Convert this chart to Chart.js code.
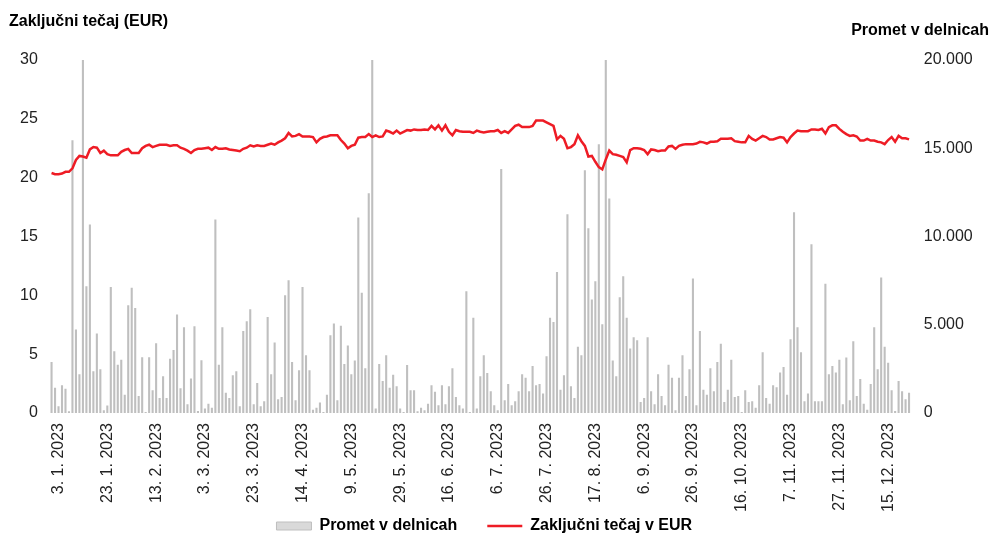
<!DOCTYPE html>
<html>
<head>
<meta charset="utf-8">
<script src="https://cdn.jsdelivr.net/npm/chart.js@4.4.0/dist/chart.umd.min.js"></script>
<style>
  html, body { margin: 0; padding: 0; background: #ffffff; }
  #wrap { width: 993px; height: 535px; position: relative; }
</style>
</head>
<body>
<div id="wrap"><canvas id="c"></canvas></div>
<script>
// Trading days 2023 (day.month)
const tradingDays = (
  "3.1 4.1 5.1 6.1 9.1 10.1 11.1 12.1 13.1 16.1 17.1 18.1 19.1 20.1 23.1 24.1 25.1 26.1 27.1 30.1 31.1 " +
  "1.2 2.2 3.2 6.2 7.2 9.2 10.2 13.2 14.2 15.2 16.2 17.2 20.2 21.2 22.2 23.2 24.2 27.2 28.2 " +
  "1.3 2.3 3.3 6.3 7.3 8.3 9.3 10.3 13.3 14.3 15.3 16.3 17.3 20.3 21.3 22.3 23.3 24.3 27.3 28.3 29.3 30.3 31.3 " +
  "3.4 4.4 5.4 6.4 11.4 12.4 13.4 14.4 17.4 18.4 19.4 20.4 21.4 24.4 25.4 26.4 28.4 " +
  "3.5 4.5 5.5 8.5 9.5 10.5 11.5 12.5 15.5 16.5 17.5 18.5 19.5 22.5 23.5 24.5 25.5 26.5 29.5 30.5 31.5 " +
  "1.6 2.6 5.6 6.6 7.6 8.6 9.6 12.6 13.6 14.6 15.6 16.6 19.6 20.6 21.6 22.6 23.6 26.6 27.6 28.6 29.6 30.6 " +
  "3.7 4.7 5.7 6.7 7.7 10.7 11.7 12.7 13.7 14.7 17.7 18.7 19.7 20.7 21.7 24.7 25.7 26.7 27.7 28.7 31.7 " +
  "1.8 2.8 3.8 4.8 7.8 8.8 9.8 10.8 11.8 16.8 17.8 18.8 21.8 22.8 23.8 24.8 25.8 28.8 29.8 30.8 31.8 " +
  "1.9 4.9 5.9 6.9 7.9 8.9 11.9 12.9 13.9 14.9 15.9 18.9 19.9 20.9 21.9 22.9 25.9 26.9 27.9 28.9 29.9 " +
  "2.10 3.10 4.10 5.10 6.10 9.10 10.10 11.10 12.10 13.10 16.10 17.10 18.10 19.10 20.10 23.10 24.10 25.10 26.10 27.10 30.10 " +
  "2.11 3.11 6.11 7.11 8.11 9.11 10.11 13.11 14.11 15.11 16.11 17.11 20.11 21.11 22.11 23.11 24.11 27.11 28.11 29.11 30.11 " +
  "1.12 4.12 5.12 6.12 7.12 8.12 11.12 12.12 13.12 14.12 15.12 18.12 19.12 20.12 21.12 22.12 27.12 28.12 29.12"
).split(" ");
const categories = tradingDays.map(t => { const p = t.split("."); return p[0] + ". " + p[1] + ". 2023"; });

// Promet v delnicah (shares traded)
const volume = [
  2890,1436,378,1570,1380,100,15460,4725,2190,20000,7180,10680,2360,4500,2475,150,430,7140,3500,2740,3020,1040,6100,7090,5950,960,3160,60,3160,1285,3950,850,2080,850,3080,3570,5575,1400,4860,490,1950,
  4910,110,2990,250,530,300,10960,2740,4860,1150,850,2140,2360,378,4650,5200,5880,490,1700,378,660,5440,2190,3990,775,907,6670,7520,2890,720,2420,7140,3270,2420,190,300,590,60,1040,4400,5070,
  720,4950,2780,3820,2190,2970,11075,6820,2530,12455,20000,250,2780,1815,3270,1436,2170,1510,250,60,2720,1285,1285,95,300,150,530,1570,1210,435,1570,490,1510,2530,907,435,250,6900,60,5400,250,2080,
  3270,2270,1230,435,150,13820,720,1645,435,660,1230,2190,2000,1230,2665,1570,1645,1100,3210,5400,5160,7990,1320,2140,11260,1510,850,3760,3270,13760,10470,6430,7470,15230,5030,20000,12150,2970,2080,6560,7750,
  5400,3650,4290,4120,620,850,4290,1230,490,2190,960,435,2740,2000,150,2000,3270,960,2475,7620,435,4650,1320,1040,2530,1230,2890,3930,620,1320,3020,907,960,60,1285,620,660,300,1570,3440,850,530,
  1570,1455,2300,2610,1040,4180,11380,4860,3440,660,1100,9560,660,660,660,7330,2190,2665,2300,3020,490,3140,720,4060,960,1930,530,190,1645,4860,2475,7670,3760,2850,1285,110,1815,1230,775,1150
];

// Zaključni tečaj v EUR (closing price)
const closePrice = [
  20.4,20.3,20.3,20.35,20.5,20.5,20.8,21.5,21.85,21.8,21.7,22.4,22.6,22.55,22.1,22.3,22.0,21.9,21.9,21.9,22.2,22.35,22.45,22.1,22.1,22.1,22.5,22.7,22.8,22.6,22.7,22.8,22.8,22.8,22.7,22.75,22.75,22.55,22.45,22.3,22.1,
  22.35,22.45,22.45,22.5,22.55,22.35,22.6,22.45,22.45,22.5,22.4,22.35,22.3,22.25,22.45,22.55,22.75,22.65,22.75,22.7,22.7,22.8,22.9,22.8,23.0,23.15,23.35,23.8,23.5,23.55,23.7,23.5,23.5,23.5,23.45,23.0,23.3,23.45,23.5,23.6,23.6,
  23.6,23.2,22.9,22.5,22.7,22.8,23.4,23.45,23.45,23.7,23.45,23.6,23.45,23.5,24.0,23.9,23.75,24.0,23.75,23.9,24.05,24.0,24.1,24.05,24.05,24.1,24.05,24.4,24.1,24.45,24.0,24.45,23.9,23.6,24.05,23.95,23.9,23.9,23.9,23.8,24.0,23.9,
  23.85,23.9,23.95,23.95,24.05,23.8,23.95,23.8,24.1,24.4,24.5,24.3,24.3,24.3,24.4,24.85,24.85,24.85,24.7,24.55,24.4,23.25,23.55,23.3,22.5,22.6,22.85,23.6,23.1,22.7,21.8,21.85,21.35,20.9,20.7,21.55,22.3,22.0,21.95,21.85,21.75,
  21.3,22.35,22.5,22.5,22.45,22.35,22.0,22.4,22.35,22.25,22.3,22.3,22.65,22.7,22.45,22.7,22.8,22.85,22.85,22.85,22.9,23.05,23.0,22.9,23.05,23.05,23.1,23.3,23.3,23.3,23.35,23.1,23.05,23.0,23.0,23.55,23.3,23.15,23.35,23.55,23.45,23.25,
  23.25,23.35,23.45,23.4,23.0,23.45,23.75,24.0,23.95,23.95,23.95,24.1,24.1,24.05,24.15,23.75,24.3,24.45,24.45,24.15,23.9,23.7,23.55,23.6,23.5,23.15,23.15,23.3,23.15,23.15,23.05,23.0,22.85,23.2,23.45,23.05,23.55,23.35,23.35,23.25
];

const labelEvery = 14;
const leftTitle = "Zaključni tečaj (EUR)";
const rightTitle = "Promet v delnicah";
const seriesNames = ["Promet v delnicah", "Zaključni tečaj v EUR"];

const fmtThousands = v => String(v).replace(/\B(?=(\d{3})+(?!\d))/g, ".");
const FONT = "'Liberation Sans', Arial, sans-serif";

// let the legend box reach up (its items keep a wide gap) without shrinking the x-axis label area
const legendShift = {
  id: "legendShift",
  afterLayout(chart) {
    const lg = chart.legend;
    if (lg) {
      lg.top = lg.bottom - 47; lg.height = 47;
      lg.left += 4; lg.right += 4;
    }
  }
};

new Chart(document.getElementById("c"), {
  plugins: [legendShift],
  data: {
    labels: categories,
    datasets: [
      {
        type: "bar",
        label: seriesNames[0],
        data: volume,
        yAxisID: "y1",
        backgroundColor: "#bfbfbf",
        borderWidth: 0,
        barPercentage: 0.6,
        categoryPercentage: 1.0,
        order: 1
      },
      {
        type: "line",
        label: seriesNames[1],
        data: closePrice,
        yAxisID: "y",
        borderColor: "#ee1c25",
        backgroundColor: "#ee1c25",
        borderWidth: 2.5,
        pointRadius: 0,
        tension: 0,
        order: 0
      }
    ]
  },
  options: {
    responsive: true,
    maintainAspectRatio: false,
    animation: false,
    layout: { padding: { left: 9, right: 4, top: 0, bottom: 0 } },
    plugins: {
      tooltip: { enabled: false },
      title: {
        display: true, text: leftTitle, align: "start", color: "#000",
        font: { family: FONT, size: 16, weight: "bold", lineHeight: 1 },
        padding: { top: 14, bottom: -7 }
      },
      subtitle: {
        display: true, text: rightTitle, align: "end", color: "#000",
        font: { family: FONT, size: 16, weight: "bold", lineHeight: 1 },
        padding: { top: 0, bottom: 21 }
      },
      legend: {
        position: "bottom",
        fullSize: false,
        maxHeight: 22,
        labels: {
          color: "#000",
          font: { family: FONT, size: 16, weight: "bold" },
          usePointStyle: true,
          pointStyleWidth: 35,
          boxHeight: 8,
          padding: 30,
          sort: (a, b) => a.datasetIndex - b.datasetIndex,
          generateLabels: (chart) => {
            const items = Chart.defaults.plugins.legend.labels.generateLabels(chart);
            items.forEach(it => {
              if (it.datasetIndex === 0) {
                it.pointStyle = "rect"; it.fillStyle = "#d9d9d9"; it.strokeStyle = "#bfbfbf"; it.lineWidth = 1;
              } else {
                it.pointStyle = "line"; it.strokeStyle = "#ee1c25"; it.lineWidth = 2.5;
              }
            });
            return items;
          }
        }
      }
    },
    scales: {
      x: {
        offset: true,
        grid: { display: false, drawTicks: false },
        border: { display: false },
        afterFit: s => { s.height = 100; },
        ticks: {
          autoSkip: false,
          maxRotation: 90,
          minRotation: 90,
          padding: 10,
          labelOffset: 7,
          color: "#222",
          font: { family: FONT, size: 16 },
          callback: function (v, i) { return i % labelEvery === 0 ? this.getLabelForValue(v) : ""; }
        }
      },
      y: {
        position: "left",
        min: 0, max: 30,
        grid: { display: false, drawTicks: false },
        border: { display: false },
        afterFit: s => { s.width = 40.8; },
        ticks: { stepSize: 5, padding: 12, color: "#222", font: { family: FONT, size: 16 } }
      },
      y1: {
        position: "right",
        min: 0, max: 20000,
        grid: { display: false, drawTicks: false },
        border: { display: false },
        afterFit: s => { s.width = 78.2; },
        ticks: {
          stepSize: 5000, padding: 13, color: "#222", font: { family: FONT, size: 16 },
          callback: v => fmtThousands(v)
        }
      }
    }
  }
});
</script>
</body>
</html>
